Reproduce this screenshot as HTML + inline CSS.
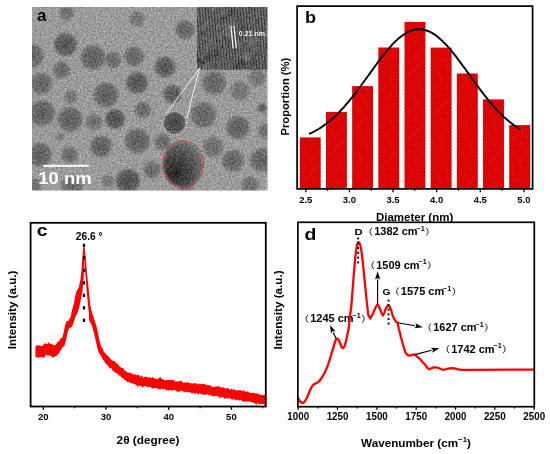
<!DOCTYPE html>
<html><head><meta charset="utf-8"><style>
html,body{margin:0;padding:0;background:#fff;}
body{width:550px;height:454px;overflow:hidden;position:relative;}
svg{position:absolute;left:0;top:0;will-change:transform;}
</style></head><body>
<svg width="550" height="454" viewBox="0 0 550 454">
<defs>
<clipPath id="temclip"><rect x="32" y="7" width="235.5" height="183.5"/></clipPath>
<clipPath id="insetclip"><rect x="197" y="7" width="70.5" height="62.5"/></clipPath>
<filter id="soft" x="-5%" y="-5%" width="110%" height="110%"><feGaussianBlur stdDeviation="0.85"/></filter>
<filter id="blur2" x="-10%" y="-10%" width="120%" height="120%"><feGaussianBlur stdDeviation="1.2"/></filter>
<filter id="grain" x="0" y="0" width="100%" height="100%" color-interpolation-filters="sRGB"><feTurbulence type="fractalNoise" baseFrequency="0.55" numOctaves="2" seed="3" result="n"/><feColorMatrix in="n" type="matrix" values="1 0 0 0 0  1 0 0 0 0  1 0 0 0 0  0 0 0 0 1" result="g"/><feComposite in="SourceGraphic" in2="g" operator="arithmetic" k1="0" k2="1" k3="0.42" k4="-0.21"/></filter>
<pattern id="fringe" patternUnits="userSpaceOnUse" width="2.9" height="10" patternTransform="rotate(-5)"><rect x="0" y="0" width="1.3" height="10" fill="#363636"/><rect x="1.3" y="0" width="1.7" height="10" fill="#727272"/></pattern>
<pattern id="hatch" patternUnits="userSpaceOnUse" width="2.45" height="10" patternTransform="rotate(45)"><rect x="0" y="0" width="2.45" height="10" fill="#ff0000"/><rect x="0" y="0" width="0.85" height="10" fill="#a00000"/></pattern>
</defs>
<g><g clip-path="url(#temclip)" filter="url(#grain)"><rect x="32" y="7" width="235.5" height="183.5" fill="#9b9b9b"/><g filter="url(#soft)"><radialGradient id="pg0"><stop offset="0" stop-color="#6c6c6c"/><stop offset="0.78" stop-color="#777777"/><stop offset="1" stop-color="#838383"/></radialGradient><circle cx="66.5" cy="13" r="7.5" fill="url(#pg0)"/><radialGradient id="pg1"><stop offset="0" stop-color="#717171"/><stop offset="0.78" stop-color="#7b7b7b"/><stop offset="1" stop-color="#878787"/></radialGradient><circle cx="137" cy="19" r="8" fill="url(#pg1)"/><radialGradient id="pg2"><stop offset="0" stop-color="#525252"/><stop offset="0.78" stop-color="#646464"/><stop offset="1" stop-color="#707070"/></radialGradient><circle cx="65.5" cy="44.5" r="11.5" fill="url(#pg2)"/><radialGradient id="pg3"><stop offset="0" stop-color="#616161"/><stop offset="0.78" stop-color="#707070"/><stop offset="1" stop-color="#7c7c7c"/></radialGradient><circle cx="32" cy="56" r="12" fill="url(#pg3)"/><radialGradient id="pg4"><stop offset="0" stop-color="#5c5c5c"/><stop offset="0.78" stop-color="#6c6c6c"/><stop offset="1" stop-color="#787878"/></radialGradient><circle cx="93" cy="57.5" r="12.5" fill="url(#pg4)"/><radialGradient id="pg5"><stop offset="0" stop-color="#676767"/><stop offset="0.78" stop-color="#747474"/><stop offset="1" stop-color="#808080"/></radialGradient><circle cx="113" cy="60" r="8.5" fill="url(#pg5)"/><radialGradient id="pg6"><stop offset="0" stop-color="#616161"/><stop offset="0.78" stop-color="#707070"/><stop offset="1" stop-color="#7c7c7c"/></radialGradient><circle cx="134" cy="56.5" r="10" fill="url(#pg6)"/><radialGradient id="pg7"><stop offset="0" stop-color="#676767"/><stop offset="0.78" stop-color="#747474"/><stop offset="1" stop-color="#808080"/></radialGradient><circle cx="61.5" cy="70" r="9" fill="url(#pg7)"/><radialGradient id="pg8"><stop offset="0" stop-color="#616161"/><stop offset="0.78" stop-color="#707070"/><stop offset="1" stop-color="#7c7c7c"/></radialGradient><circle cx="41.5" cy="83.5" r="11" fill="url(#pg8)"/><radialGradient id="pg9"><stop offset="0" stop-color="#525252"/><stop offset="0.78" stop-color="#646464"/><stop offset="1" stop-color="#707070"/></radialGradient><circle cx="137" cy="83" r="11" fill="url(#pg9)"/><radialGradient id="pg10"><stop offset="0" stop-color="#5c5c5c"/><stop offset="0.78" stop-color="#6c6c6c"/><stop offset="1" stop-color="#787878"/></radialGradient><circle cx="106" cy="95" r="12.5" fill="url(#pg10)"/><radialGradient id="pg11"><stop offset="0" stop-color="#717171"/><stop offset="0.78" stop-color="#7b7b7b"/><stop offset="1" stop-color="#878787"/></radialGradient><circle cx="71" cy="97" r="7" fill="url(#pg11)"/><radialGradient id="pg12"><stop offset="0" stop-color="#616161"/><stop offset="0.78" stop-color="#707070"/><stop offset="1" stop-color="#7c7c7c"/></radialGradient><circle cx="185" cy="29.5" r="9.8" fill="url(#pg12)"/><radialGradient id="pg13"><stop offset="0" stop-color="#525252"/><stop offset="0.78" stop-color="#646464"/><stop offset="1" stop-color="#707070"/></radialGradient><circle cx="165" cy="67" r="10.5" fill="url(#pg13)"/><radialGradient id="pg14"><stop offset="0" stop-color="#575757"/><stop offset="0.78" stop-color="#686868"/><stop offset="1" stop-color="#747474"/></radialGradient><circle cx="172.5" cy="94" r="9.5" fill="url(#pg14)"/><radialGradient id="pg15"><stop offset="0" stop-color="#616161"/><stop offset="0.78" stop-color="#707070"/><stop offset="1" stop-color="#7c7c7c"/></radialGradient><circle cx="214" cy="83" r="12" fill="url(#pg15)"/><radialGradient id="pg16"><stop offset="0" stop-color="#717171"/><stop offset="0.78" stop-color="#7b7b7b"/><stop offset="1" stop-color="#878787"/></radialGradient><circle cx="240" cy="91" r="10" fill="url(#pg16)"/><radialGradient id="pg17"><stop offset="0" stop-color="#717171"/><stop offset="0.78" stop-color="#7b7b7b"/><stop offset="1" stop-color="#878787"/></radialGradient><circle cx="257" cy="78" r="9" fill="url(#pg17)"/><radialGradient id="pg18"><stop offset="0" stop-color="#5c5c5c"/><stop offset="0.78" stop-color="#6c6c6c"/><stop offset="1" stop-color="#787878"/></radialGradient><circle cx="42" cy="113" r="13" fill="url(#pg18)"/><radialGradient id="pg19"><stop offset="0" stop-color="#5c5c5c"/><stop offset="0.78" stop-color="#6c6c6c"/><stop offset="1" stop-color="#787878"/></radialGradient><circle cx="70" cy="119.5" r="12.5" fill="url(#pg19)"/><radialGradient id="pg20"><stop offset="0" stop-color="#6c6c6c"/><stop offset="0.78" stop-color="#777777"/><stop offset="1" stop-color="#838383"/></radialGradient><circle cx="94" cy="122" r="8.5" fill="url(#pg20)"/><radialGradient id="pg21"><stop offset="0" stop-color="#4d4d4d"/><stop offset="0.78" stop-color="#606060"/><stop offset="1" stop-color="#6c6c6c"/></radialGradient><circle cx="115" cy="119" r="10" fill="url(#pg21)"/><radialGradient id="pg22"><stop offset="0" stop-color="#676767"/><stop offset="0.78" stop-color="#747474"/><stop offset="1" stop-color="#808080"/></radialGradient><circle cx="143" cy="110" r="8.5" fill="url(#pg22)"/><radialGradient id="pg23"><stop offset="0" stop-color="#5c5c5c"/><stop offset="0.78" stop-color="#6c6c6c"/><stop offset="1" stop-color="#787878"/></radialGradient><circle cx="101" cy="146.5" r="11" fill="url(#pg23)"/><radialGradient id="pg24"><stop offset="0" stop-color="#5c5c5c"/><stop offset="0.78" stop-color="#6c6c6c"/><stop offset="1" stop-color="#787878"/></radialGradient><circle cx="137.5" cy="141" r="12.5" fill="url(#pg24)"/><radialGradient id="pg25"><stop offset="0" stop-color="#5c5c5c"/><stop offset="0.78" stop-color="#6c6c6c"/><stop offset="1" stop-color="#787878"/></radialGradient><circle cx="40" cy="155" r="12" fill="url(#pg25)"/><radialGradient id="pg26"><stop offset="0" stop-color="#676767"/><stop offset="0.78" stop-color="#747474"/><stop offset="1" stop-color="#808080"/></radialGradient><circle cx="69.5" cy="155" r="8.5" fill="url(#pg26)"/><radialGradient id="pg27"><stop offset="0" stop-color="#4d4d4d"/><stop offset="0.78" stop-color="#606060"/><stop offset="1" stop-color="#6c6c6c"/></radialGradient><circle cx="128" cy="181" r="12" fill="url(#pg27)"/><radialGradient id="pg28"><stop offset="0" stop-color="#7b7b7b"/><stop offset="0.78" stop-color="#838383"/><stop offset="1" stop-color="#8f8f8f"/></radialGradient><circle cx="60" cy="137" r="5" fill="url(#pg28)"/><radialGradient id="pg29"><stop offset="0" stop-color="#676767"/><stop offset="0.78" stop-color="#747474"/><stop offset="1" stop-color="#808080"/></radialGradient><circle cx="72" cy="186" r="11" fill="url(#pg29)"/><radialGradient id="pg30"><stop offset="0" stop-color="#424242"/><stop offset="0.78" stop-color="#585858"/><stop offset="1" stop-color="#646464"/></radialGradient><circle cx="174.5" cy="123" r="11.5" fill="url(#pg30)"/><radialGradient id="pg31"><stop offset="0" stop-color="#616161"/><stop offset="0.78" stop-color="#707070"/><stop offset="1" stop-color="#7c7c7c"/></radialGradient><circle cx="203.5" cy="115" r="13" fill="url(#pg31)"/><radialGradient id="pg32"><stop offset="0" stop-color="#5c5c5c"/><stop offset="0.78" stop-color="#6c6c6c"/><stop offset="1" stop-color="#787878"/></radialGradient><circle cx="238" cy="127.5" r="11.5" fill="url(#pg32)"/><radialGradient id="pg33"><stop offset="0" stop-color="#676767"/><stop offset="0.78" stop-color="#747474"/><stop offset="1" stop-color="#808080"/></radialGradient><circle cx="162.5" cy="142" r="8.5" fill="url(#pg33)"/><radialGradient id="pg34"><stop offset="0" stop-color="#6c6c6c"/><stop offset="0.78" stop-color="#777777"/><stop offset="1" stop-color="#838383"/></radialGradient><circle cx="213" cy="147" r="10.5" fill="url(#pg34)"/><radialGradient id="pg35"><stop offset="0" stop-color="#616161"/><stop offset="0.78" stop-color="#707070"/><stop offset="1" stop-color="#7c7c7c"/></radialGradient><circle cx="233" cy="161" r="11" fill="url(#pg35)"/><radialGradient id="pg36"><stop offset="0" stop-color="#616161"/><stop offset="0.78" stop-color="#707070"/><stop offset="1" stop-color="#7c7c7c"/></radialGradient><circle cx="262" cy="160" r="12" fill="url(#pg36)"/><radialGradient id="pg37"><stop offset="0" stop-color="#676767"/><stop offset="0.78" stop-color="#747474"/><stop offset="1" stop-color="#808080"/></radialGradient><circle cx="152" cy="170" r="9" fill="url(#pg37)"/><radialGradient id="pg38"><stop offset="0" stop-color="#5c5c5c"/><stop offset="0.78" stop-color="#6c6c6c"/><stop offset="1" stop-color="#787878"/></radialGradient><circle cx="262" cy="108" r="5" fill="url(#pg38)"/><radialGradient id="pg39"><stop offset="0" stop-color="#676767"/><stop offset="0.78" stop-color="#747474"/><stop offset="1" stop-color="#808080"/></radialGradient><circle cx="266" cy="131" r="8" fill="url(#pg39)"/><radialGradient id="pg40"><stop offset="0" stop-color="#767676"/><stop offset="0.78" stop-color="#7f7f7f"/><stop offset="1" stop-color="#8b8b8b"/></radialGradient><circle cx="108" cy="181" r="7" fill="url(#pg40)"/><radialGradient id="pg41"><stop offset="0" stop-color="#717171"/><stop offset="0.78" stop-color="#7b7b7b"/><stop offset="1" stop-color="#878787"/></radialGradient><circle cx="186" cy="185" r="8" fill="url(#pg41)"/><radialGradient id="pg42"><stop offset="0" stop-color="#6c6c6c"/><stop offset="0.78" stop-color="#777777"/><stop offset="1" stop-color="#838383"/></radialGradient><circle cx="250" cy="185" r="9" fill="url(#pg42)"/><radialGradient id="pg43"><stop offset="0" stop-color="#6c6c6c"/><stop offset="0.78" stop-color="#777777"/><stop offset="1" stop-color="#838383"/></radialGradient><circle cx="34" cy="186" r="8" fill="url(#pg43)"/><radialGradient id="big" cx="0.3" cy="0.68" r="0.8"><stop offset="0" stop-color="#262626"/><stop offset="0.45" stop-color="#474747"/><stop offset="1" stop-color="#777"/></radialGradient><ellipse cx="183" cy="164.5" rx="19.5" ry="22.5" fill="url(#big)"/></g><rect x="197" y="7" width="70.5" height="62.5" fill="#5a5a5a"/><rect x="197" y="7" width="70.5" height="62.5" fill="url(#fringe)"/><g filter="url(#blur2)" clip-path="url(#insetclip)"><circle cx="206.1" cy="38.2" r="3.0" fill="#787878" opacity="0.45"/><circle cx="207.4" cy="65.0" r="1.7" fill="#2d2d2d" opacity="0.45"/><circle cx="206.1" cy="66.3" r="3.1" fill="#878787" opacity="0.45"/><circle cx="233.1" cy="48.4" r="2.2" fill="#3c3c3c" opacity="0.45"/><circle cx="206.7" cy="56.3" r="3.2" fill="#3c3c3c" opacity="0.45"/><circle cx="254.6" cy="41.3" r="4.0" fill="#787878" opacity="0.45"/><circle cx="211.4" cy="41.6" r="2.7" fill="#878787" opacity="0.45"/><circle cx="238.7" cy="21.7" r="3.5" fill="#3c3c3c" opacity="0.45"/><circle cx="258.1" cy="15.0" r="2.7" fill="#787878" opacity="0.45"/><circle cx="202.9" cy="63.0" r="2.6" fill="#3c3c3c" opacity="0.45"/><circle cx="207.4" cy="49.1" r="2.0" fill="#787878" opacity="0.45"/><circle cx="212.3" cy="9.1" r="2.0" fill="#878787" opacity="0.45"/><circle cx="221.4" cy="36.3" r="3.8" fill="#787878" opacity="0.45"/><circle cx="220.9" cy="8.1" r="1.9" fill="#787878" opacity="0.45"/><circle cx="267.2" cy="35.7" r="3.2" fill="#878787" opacity="0.45"/><circle cx="199.4" cy="59.9" r="3.0" fill="#2d2d2d" opacity="0.45"/><circle cx="218.8" cy="26.8" r="1.7" fill="#878787" opacity="0.45"/><circle cx="198.7" cy="59.4" r="2.7" fill="#2d2d2d" opacity="0.45"/><circle cx="206.0" cy="53.2" r="2.0" fill="#878787" opacity="0.45"/><circle cx="239.2" cy="63.0" r="1.6" fill="#2d2d2d" opacity="0.45"/><circle cx="253.8" cy="18.9" r="1.7" fill="#787878" opacity="0.45"/><circle cx="217.7" cy="52.4" r="2.7" fill="#2d2d2d" opacity="0.45"/><circle cx="257.1" cy="20.6" r="2.3" fill="#3c3c3c" opacity="0.45"/><circle cx="266.0" cy="65.8" r="2.4" fill="#3c3c3c" opacity="0.45"/><circle cx="227.7" cy="26.6" r="3.4" fill="#878787" opacity="0.45"/><circle cx="201.8" cy="32.3" r="2.1" fill="#2d2d2d" opacity="0.45"/><circle cx="256.6" cy="53.4" r="2.9" fill="#2d2d2d" opacity="0.45"/><circle cx="245.8" cy="55.8" r="3.8" fill="#787878" opacity="0.45"/><circle cx="207.6" cy="46.1" r="1.9" fill="#787878" opacity="0.45"/><circle cx="252.4" cy="62.9" r="3.4" fill="#3c3c3c" opacity="0.45"/><circle cx="199.5" cy="29.5" r="1.9" fill="#787878" opacity="0.45"/><circle cx="207.2" cy="22.3" r="2.4" fill="#878787" opacity="0.45"/><circle cx="201.3" cy="61.4" r="3.1" fill="#2d2d2d" opacity="0.45"/><circle cx="232.1" cy="11.9" r="3.0" fill="#2d2d2d" opacity="0.45"/><circle cx="213.3" cy="9.4" r="1.8" fill="#878787" opacity="0.45"/><circle cx="241.9" cy="27.3" r="3.1" fill="#787878" opacity="0.45"/><circle cx="221.8" cy="15.2" r="2.3" fill="#878787" opacity="0.45"/><circle cx="261.3" cy="14.2" r="1.7" fill="#3c3c3c" opacity="0.45"/><circle cx="236.6" cy="67.2" r="3.8" fill="#3c3c3c" opacity="0.45"/><circle cx="201.7" cy="57.4" r="3.2" fill="#787878" opacity="0.45"/><circle cx="207.1" cy="36.1" r="1.6" fill="#3c3c3c" opacity="0.45"/><circle cx="247.7" cy="57.3" r="3.4" fill="#878787" opacity="0.45"/><circle cx="215.8" cy="56.4" r="2.1" fill="#2d2d2d" opacity="0.45"/><circle cx="224.5" cy="38.1" r="2.2" fill="#2d2d2d" opacity="0.45"/><circle cx="239.7" cy="44.7" r="2.1" fill="#878787" opacity="0.45"/><circle cx="222.2" cy="52.9" r="2.2" fill="#787878" opacity="0.45"/><circle cx="253.3" cy="32.9" r="2.9" fill="#787878" opacity="0.45"/><circle cx="233.5" cy="23.1" r="3.9" fill="#787878" opacity="0.45"/><circle cx="203.8" cy="27.3" r="2.9" fill="#787878" opacity="0.45"/><circle cx="207.9" cy="57.0" r="3.5" fill="#2d2d2d" opacity="0.45"/><circle cx="241.9" cy="63.4" r="3.4" fill="#2d2d2d" opacity="0.45"/><circle cx="242.5" cy="28.3" r="3.4" fill="#3c3c3c" opacity="0.45"/><circle cx="224.1" cy="16.6" r="3.7" fill="#2d2d2d" opacity="0.45"/><circle cx="249.5" cy="42.0" r="3.5" fill="#787878" opacity="0.45"/><circle cx="228.6" cy="42.4" r="1.7" fill="#3c3c3c" opacity="0.45"/><circle cx="254.4" cy="51.1" r="3.5" fill="#787878" opacity="0.45"/><circle cx="232.0" cy="62.1" r="1.8" fill="#787878" opacity="0.45"/><circle cx="223.2" cy="12.7" r="3.0" fill="#878787" opacity="0.45"/><circle cx="229.1" cy="33.8" r="3.6" fill="#878787" opacity="0.45"/><circle cx="240.5" cy="32.9" r="2.8" fill="#2d2d2d" opacity="0.45"/></g></g><line x1="230.9" y1="25.7" x2="233.1" y2="48.6" stroke="#f6f6f6" stroke-width="1.2"/><line x1="233.9" y1="25.7" x2="236.3" y2="48.2" stroke="#f6f6f6" stroke-width="1.2"/><text x="238.8" y="36.4" fill="#f4f4f4" style="font-family:'Liberation Sans', sans-serif;font-size:7.0px;font-weight:bold">0.21 nm</text><line x1="199.5" y1="68" x2="166.5" y2="113.5" stroke="#f0f0f0" stroke-width="1"/><line x1="199.5" y1="68" x2="186.8" y2="118.5" stroke="#f0f0f0" stroke-width="1"/><circle cx="174.5" cy="123" r="11.8" fill="none" stroke="#e8f0f0" stroke-width="1.1" stroke-dasharray="1.1 1.1"/><ellipse cx="183.2" cy="164.3" rx="20.3" ry="23.3" fill="none" stroke="#e01010" stroke-width="1.3" stroke-dasharray="1.3 1.3"/><rect x="43" y="164.8" width="45.7" height="2" fill="#fafafa"/><text transform="translate(38.3 184.2) scale(1.1 1)" fill="#fff" style="font-family:'Liberation Sans', sans-serif;font-size:16.8px;font-weight:bold">10 nm</text><text x="37" y="20.5" fill="#000" style="font-family:'Liberation Sans', sans-serif;font-size:17px;font-weight:bold">a</text></g>
<g><rect x="299.80" y="137.4" width="20.9" height="51.50" fill="url(#hatch)"/><rect x="325.98" y="111.9" width="20.9" height="77.00" fill="url(#hatch)"/><rect x="352.16" y="86.1" width="20.9" height="102.80" fill="url(#hatch)"/><rect x="378.34" y="47.5" width="20.9" height="141.40" fill="url(#hatch)"/><rect x="404.52" y="21.9" width="20.9" height="167.00" fill="url(#hatch)"/><rect x="430.70" y="47.6" width="20.9" height="141.30" fill="url(#hatch)"/><rect x="456.88" y="73.5" width="20.9" height="115.40" fill="url(#hatch)"/><rect x="483.06" y="99.4" width="20.9" height="89.50" fill="url(#hatch)"/><rect x="509.24" y="125.1" width="20.9" height="63.80" fill="url(#hatch)"/><polyline points="309.8,133.7 311.6,132.9 313.3,132.0 315.1,131.0 316.8,130.0 318.6,129.0 320.4,127.9 322.1,126.7 323.9,125.4 325.7,124.2 327.4,122.8 329.2,121.4 330.9,119.9 332.7,118.4 334.5,116.7 336.2,115.1 338.0,113.3 339.8,111.5 341.5,109.7 343.3,107.8 345.0,105.8 346.8,103.7 348.6,101.7 350.3,99.5 352.1,97.3 353.9,95.1 355.6,92.8 357.4,90.5 359.1,88.1 360.9,85.8 362.7,83.3 364.4,80.9 366.2,78.5 368.0,76.0 369.7,73.6 371.5,71.1 373.2,68.7 375.0,66.2 376.8,63.8 378.5,61.4 380.3,59.1 382.0,56.8 383.8,54.5 385.6,52.3 387.3,50.2 389.1,48.1 390.9,46.1 392.6,44.2 394.4,42.4 396.1,40.7 397.9,39.1 399.7,37.6 401.4,36.2 403.2,34.9 405.0,33.7 406.7,32.7 408.5,31.8 410.2,31.0 412.0,30.4 413.8,29.9 415.5,29.5 417.3,29.3 419.1,29.2 420.8,29.3 422.6,29.5 424.3,29.8 426.1,30.3 427.9,31.0 429.6,31.7 431.4,32.6 433.2,33.6 434.9,34.8 436.7,36.1 438.4,37.5 440.2,39.0 442.0,40.6 443.7,42.3 445.5,44.1 447.3,46.0 449.0,48.0 450.8,50.1 452.5,52.2 454.3,54.4 456.1,56.7 457.8,59.0 459.6,61.3 461.3,63.7 463.1,66.1 464.9,68.5 466.6,71.0 468.4,73.4 470.2,75.9 471.9,78.3 473.7,80.8 475.4,83.2 477.2,85.6 479.0,88.0 480.7,90.4 482.5,92.7 484.3,95.0 486.0,97.2 487.8,99.4 489.5,101.6 491.3,103.6 493.1,105.7 494.8,107.7 496.6,109.6 498.4,111.4 500.1,113.2 501.9,115.0 503.6,116.7 505.4,118.3 507.2,119.8 508.9,121.3 510.7,122.7 512.5,124.1 514.2,125.4 516.0,126.6 517.7,127.8 519.5,128.9" fill="none" stroke="#000" stroke-width="1.9" stroke-linejoin="round" stroke-linecap="round"/><rect x="297.1" y="6.1" width="235.5" height="182.8" fill="none" stroke="#000" stroke-width="1.7"/><line x1="305.8" y1="188.9" x2="305.8" y2="192.3" stroke="#000" stroke-width="1.3"/><line x1="327.6" y1="188.9" x2="327.6" y2="190.70000000000002" stroke="#000" stroke-width="1.2"/><text x="305.8" y="203" text-anchor="middle" style="font-family:'Liberation Sans', sans-serif;font-size:9.5px;font-weight:bold">2.5</text><line x1="349.4" y1="188.9" x2="349.4" y2="192.3" stroke="#000" stroke-width="1.3"/><line x1="371.2" y1="188.9" x2="371.2" y2="190.70000000000002" stroke="#000" stroke-width="1.2"/><text x="349.4" y="203" text-anchor="middle" style="font-family:'Liberation Sans', sans-serif;font-size:9.5px;font-weight:bold">3.0</text><line x1="393.0" y1="188.9" x2="393.0" y2="192.3" stroke="#000" stroke-width="1.3"/><line x1="414.9" y1="188.9" x2="414.9" y2="190.70000000000002" stroke="#000" stroke-width="1.2"/><text x="393.0" y="203" text-anchor="middle" style="font-family:'Liberation Sans', sans-serif;font-size:9.5px;font-weight:bold">3.5</text><line x1="436.7" y1="188.9" x2="436.7" y2="192.3" stroke="#000" stroke-width="1.3"/><line x1="458.5" y1="188.9" x2="458.5" y2="190.70000000000002" stroke="#000" stroke-width="1.2"/><text x="436.7" y="203" text-anchor="middle" style="font-family:'Liberation Sans', sans-serif;font-size:9.5px;font-weight:bold">4.0</text><line x1="480.3" y1="188.9" x2="480.3" y2="192.3" stroke="#000" stroke-width="1.3"/><line x1="502.1" y1="188.9" x2="502.1" y2="190.70000000000002" stroke="#000" stroke-width="1.2"/><text x="480.3" y="203" text-anchor="middle" style="font-family:'Liberation Sans', sans-serif;font-size:9.5px;font-weight:bold">4.5</text><line x1="523.9" y1="188.9" x2="523.9" y2="192.3" stroke="#000" stroke-width="1.3"/><text x="523.9" y="203" text-anchor="middle" style="font-family:'Liberation Sans', sans-serif;font-size:9.5px;font-weight:bold">5.0</text><text x="414.6" y="221" text-anchor="middle" style="font-family:'Liberation Sans', sans-serif;font-size:11.5px;font-weight:bold">Diameter (nm)</text><text transform="translate(289.4 96.6) rotate(-90)" text-anchor="middle" style="font-family:'Liberation Sans', sans-serif;font-size:11.2px;font-weight:bold">Proportion (%)</text><text transform="translate(305.0 22.8) scale(1.1 1)" style="font-family:'Liberation Sans', sans-serif;font-size:16.5px;font-weight:bold">b</text></g>
<g><polygon points="35.5,346.1 36.0,345.9 36.5,345.6 37.0,345.5 37.5,345.2 38.0,345.6 38.5,345.3 39.0,345.4 39.5,345.3 40.0,345.7 40.5,345.9 41.0,346.1 41.5,346.0 42.0,345.9 42.5,345.7 43.0,345.3 43.5,344.8 44.0,344.2 44.5,343.8 45.0,343.1 45.5,343.6 46.0,343.6 46.5,343.9 47.0,343.9 47.5,344.1 48.0,342.9 48.5,342.2 49.0,342.6 49.5,343.9 50.0,343.7 50.5,343.6 51.0,343.7 51.5,344.2 52.0,344.1 52.5,344.3 53.0,344.9 53.5,345.2 54.0,345.1 54.5,345.0 55.0,345.2 55.5,345.1 56.0,344.2 56.5,343.7 57.0,342.9 57.5,342.2 58.0,341.3 58.5,341.5 59.0,341.6 59.5,340.4 60.0,339.3 60.5,338.6 61.0,338.6 61.5,338.1 62.0,338.1 62.5,336.9 63.0,335.2 63.5,333.1 64.0,330.7 64.5,328.1 65.0,326.2 65.5,324.2 66.0,322.4 66.5,321.6 67.0,321.0 67.5,320.9 68.0,321.0 68.5,320.7 69.0,319.5 69.5,318.9 70.0,318.6 70.5,317.3 71.0,315.6 71.5,313.6 72.0,311.6 72.5,309.9 73.0,308.1 73.5,306.2 74.0,304.3 74.5,302.5 75.0,300.7 75.5,298.8 76.0,297.0 76.5,295.2 76.5,313.2 76.0,315.0 75.5,316.8 75.0,318.5 74.5,320.0 74.0,321.6 73.5,322.9 73.0,324.1 72.5,325.3 72.0,326.4 71.5,327.1 71.0,327.4 70.5,327.7 70.0,327.8 69.5,328.3 69.0,328.7 68.5,329.7 68.0,331.1 67.5,333.1 67.0,335.5 66.5,338.0 66.0,340.4 65.5,342.2 65.0,344.2 64.5,345.8 64.0,346.4 63.5,346.8 63.0,347.1 62.5,347.3 62.0,347.7 61.5,349.3 61.0,349.9 60.5,350.2 60.0,351.0 59.5,352.5 59.0,353.6 58.5,354.0 58.0,353.9 57.5,354.6 57.0,355.4 56.5,356.0 56.0,355.9 55.5,356.1 55.0,356.4 54.5,357.0 54.0,356.9 53.5,357.6 53.0,358.0 52.5,357.6 52.0,356.6 51.5,356.4 51.0,356.3 50.5,355.7 50.0,355.5 49.5,355.4 49.0,355.6 48.5,355.5 48.0,356.0 47.5,355.6 47.0,355.2 46.5,354.6 46.0,355.0 45.5,355.3 45.0,356.3 44.5,357.4 44.0,358.0 43.5,357.7 43.0,357.2 42.5,357.1 42.0,357.1 41.5,357.2 41.0,357.3 40.5,357.2 40.0,357.2 39.5,357.3 39.0,357.5 38.5,357.7 38.0,357.9 37.5,357.3 37.0,357.3 36.5,357.5 36.0,357.6 35.5,356.7" fill="#ff0000"/><polygon points="89.0,299.5 89.5,302.4 90.0,305.4 90.5,307.4 91.0,309.4 91.5,311.1 92.0,312.7 92.5,314.2 93.0,315.6 93.5,316.9 94.0,318.4 94.5,319.9 95.0,321.4 95.5,322.9 96.0,324.5 96.5,326.3 97.0,328.5 97.5,330.6 98.0,333.0 98.5,335.4 99.0,338.0 99.5,340.4 100.0,342.4 100.5,344.3 101.0,346.0 101.5,347.1 102.0,347.7 102.5,348.0 103.0,349.5 103.5,351.0 104.0,352.3 104.5,352.5 105.0,352.7 105.5,353.2 106.0,354.3 106.5,355.0 107.0,355.4 107.5,355.4 108.0,355.6 108.5,356.3 109.0,357.1 109.5,358.0 110.0,358.4 110.5,359.0 111.0,359.3 111.5,360.0 112.0,360.4 112.5,360.9 113.0,360.7 113.5,360.8 114.0,360.7 114.5,361.3 115.0,361.7 115.5,362.7 116.0,362.9 116.5,362.9 117.0,363.4 117.5,364.3 118.0,364.5 118.5,364.5 119.0,365.4 119.5,366.6 120.0,367.0 120.5,367.1 121.0,367.3 121.5,368.0 122.0,368.1 122.5,368.0 123.0,367.9 123.5,368.5 124.0,369.4 124.5,370.4 125.0,370.8 125.5,371.1 126.0,371.2 126.5,371.6 127.0,372.1 127.5,372.6 128.0,372.5 128.5,372.3 129.0,372.4 129.5,373.0 130.0,372.9 130.5,372.7 131.0,372.8 131.5,373.6 132.0,374.1 132.5,374.3 133.0,374.2 133.5,374.2 134.0,374.5 134.5,374.5 135.0,374.3 135.5,374.3 136.0,375.0 136.5,375.4 137.0,375.0 137.5,374.6 138.0,374.6 138.5,374.9 139.0,375.3 139.5,375.6 140.0,376.5 140.5,376.7 141.0,376.4 141.5,375.3 142.0,375.6 142.5,376.6 143.0,377.5 143.5,377.7 144.0,377.4 144.5,376.7 145.0,376.6 145.5,376.8 146.0,376.7 146.5,376.5 147.0,377.1 147.5,377.8 148.0,377.6 148.5,377.3 149.0,377.2 149.5,377.3 150.0,377.5 150.5,377.8 151.0,378.0 151.5,378.1 152.0,377.6 152.5,377.0 153.0,376.9 153.5,377.9 154.0,378.7 154.5,378.5 155.0,378.2 155.5,378.1 156.0,378.8 156.5,379.1 157.0,379.4 157.5,378.9 158.0,378.9 158.5,378.3 159.0,378.2 159.5,377.6 160.0,377.0 160.5,377.0 161.0,377.7 161.5,379.1 162.0,379.1 162.5,379.2 163.0,378.8 163.5,379.3 164.0,379.9 164.5,380.4 165.0,380.6 165.5,380.3 166.0,380.0 166.5,380.0 167.0,380.0 167.5,380.0 168.0,379.9 168.5,379.9 169.0,379.6 169.5,379.9 170.0,380.6 170.5,380.7 171.0,379.8 171.5,379.2 172.0,379.7 172.5,380.3 173.0,380.8 173.5,380.0 174.0,379.9 174.5,380.5 175.0,381.7 175.5,381.4 176.0,381.2 176.5,381.4 177.0,381.4 177.5,381.3 178.0,381.6 178.5,381.5 179.0,381.3 179.5,381.3 180.0,381.3 180.5,380.6 181.0,380.5 181.5,381.1 182.0,381.5 182.5,382.0 183.0,382.5 183.5,382.7 184.0,382.7 184.5,382.9 185.0,382.4 185.5,382.1 186.0,382.3 186.5,382.8 187.0,382.8 187.5,382.1 188.0,382.1 188.5,382.6 189.0,383.3 189.5,383.0 190.0,383.0 190.5,383.0 191.0,383.2 191.5,383.3 192.0,383.7 192.5,383.9 193.0,383.3 193.5,383.2 194.0,383.1 194.5,383.4 195.0,383.2 195.5,383.4 196.0,383.2 196.5,383.3 197.0,383.6 197.5,384.2 198.0,384.4 198.5,384.4 199.0,384.1 199.5,383.4 200.0,383.5 200.5,384.0 201.0,384.5 201.5,384.4 202.0,384.1 202.5,384.1 203.0,383.7 203.5,383.9 204.0,384.1 204.5,384.0 205.0,384.3 205.5,384.9 206.0,384.7 206.5,384.6 207.0,384.9 207.5,385.2 208.0,385.3 208.5,385.2 209.0,385.2 209.5,385.0 210.0,385.3 210.5,385.6 211.0,386.0 211.5,386.5 212.0,386.7 212.5,386.8 213.0,386.8 213.5,387.0 214.0,387.1 214.5,387.3 215.0,387.2 215.5,386.4 216.0,386.1 216.5,386.6 217.0,386.8 217.5,386.7 218.0,386.2 218.5,386.1 219.0,386.1 219.5,386.8 220.0,387.5 220.5,387.3 221.0,387.3 221.5,387.3 222.0,387.8 222.5,387.1 223.0,387.1 223.5,387.5 224.0,387.9 224.5,388.0 225.0,388.6 225.5,388.6 226.0,388.5 226.5,388.3 227.0,388.3 227.5,388.0 228.0,388.1 228.5,388.4 229.0,388.9 229.5,389.4 230.0,389.5 230.5,389.7 231.0,389.2 231.5,388.7 232.0,388.6 232.5,389.3 233.0,390.0 233.5,390.0 234.0,389.2 234.5,389.0 235.0,389.6 235.5,390.4 236.0,390.6 236.5,390.3 237.0,390.4 237.5,390.2 238.0,390.2 238.5,390.0 239.0,390.5 239.5,390.2 240.0,389.8 240.5,389.9 241.0,390.4 241.5,390.8 242.0,391.2 242.5,391.4 243.0,390.3 243.5,390.3 244.0,390.5 244.5,391.2 245.0,391.5 245.5,391.6 246.0,391.6 246.5,391.5 247.0,391.7 247.5,391.4 248.0,391.8 248.5,392.1 249.0,392.3 249.5,392.5 250.0,393.0 250.5,393.1 251.0,393.0 251.5,392.9 252.0,392.8 252.5,392.6 253.0,392.8 253.5,393.1 254.0,393.0 254.5,393.0 255.0,393.4 255.5,393.6 256.0,393.3 256.5,393.4 257.0,393.4 257.5,393.3 258.0,393.6 258.5,394.3 259.0,394.4 259.5,394.3 260.0,394.5 260.5,394.7 261.0,395.0 261.5,394.7 262.0,394.9 262.5,395.1 263.0,395.3 263.5,394.9 264.0,395.0 264.5,394.9 265.0,395.1 265.0,405.2 264.5,405.2 264.0,404.1 263.5,404.0 263.0,404.0 262.5,404.1 262.0,403.8 261.5,404.1 261.0,404.0 260.5,404.1 260.0,404.1 259.5,404.7 259.0,404.2 258.5,403.4 258.0,402.9 257.5,403.0 257.0,403.7 256.5,404.6 256.0,405.0 255.5,404.3 255.0,403.2 254.5,403.0 254.0,402.8 253.5,402.7 253.0,402.5 252.5,402.6 252.0,402.4 251.5,402.3 251.0,402.0 250.5,401.8 250.0,401.4 249.5,401.4 249.0,401.5 248.5,401.6 248.0,401.6 247.5,401.3 247.0,401.3 246.5,401.9 246.0,402.0 245.5,401.3 245.0,400.8 244.5,401.7 244.0,402.1 243.5,401.9 243.0,401.3 242.5,400.9 242.0,400.9 241.5,400.6 241.0,400.2 240.5,399.6 240.0,400.3 239.5,400.7 239.0,400.8 238.5,400.2 238.0,399.8 237.5,399.4 237.0,399.5 236.5,400.6 236.0,400.6 235.5,400.1 235.0,399.4 234.5,399.5 234.0,399.6 233.5,399.2 233.0,399.5 232.5,399.4 232.0,399.6 231.5,399.2 231.0,399.0 230.5,398.8 230.0,398.5 229.5,398.2 229.0,398.2 228.5,398.3 228.0,398.7 227.5,398.6 227.0,398.1 226.5,397.4 226.0,397.9 225.5,398.9 225.0,398.9 224.5,398.4 224.0,397.9 223.5,397.6 223.0,397.1 222.5,397.2 222.0,397.6 221.5,397.6 221.0,397.2 220.5,397.2 220.0,397.9 219.5,398.3 219.0,397.6 218.5,396.5 218.0,396.3 217.5,396.5 217.0,396.1 216.5,396.1 216.0,395.8 215.5,395.7 215.0,396.1 214.5,396.7 214.0,396.5 213.5,396.2 213.0,396.4 212.5,396.4 212.0,395.5 211.5,394.9 211.0,395.3 210.5,395.5 210.0,395.4 209.5,394.8 209.0,395.1 208.5,395.0 208.0,394.8 207.5,394.3 207.0,394.3 206.5,394.0 206.0,394.2 205.5,394.9 205.0,395.3 204.5,394.9 204.0,394.4 203.5,394.6 203.0,394.6 202.5,394.6 202.0,394.3 201.5,394.4 201.0,394.0 200.5,393.8 200.0,393.3 199.5,393.8 199.0,393.9 198.5,394.3 198.0,394.3 197.5,394.1 197.0,393.3 196.5,393.0 196.0,393.0 195.5,393.4 195.0,394.0 194.5,393.8 194.0,393.2 193.5,392.8 193.0,392.7 192.5,393.3 192.0,393.8 191.5,393.6 191.0,392.6 190.5,392.1 190.0,392.6 189.5,392.7 189.0,392.2 188.5,391.9 188.0,391.9 187.5,392.2 187.0,392.1 186.5,392.2 186.0,391.7 185.5,391.3 185.0,392.0 184.5,392.3 184.0,392.4 183.5,391.5 183.0,391.3 182.5,390.8 182.0,390.8 181.5,390.6 181.0,390.5 180.5,390.9 180.0,391.4 179.5,391.5 179.0,391.3 178.5,392.0 178.0,392.5 177.5,391.8 177.0,391.4 176.5,391.0 176.0,391.0 175.5,390.2 175.0,389.9 174.5,389.7 174.0,389.7 173.5,390.2 173.0,390.4 172.5,391.0 172.0,390.5 171.5,390.2 171.0,389.9 170.5,390.3 170.0,390.8 169.5,390.3 169.0,390.5 168.5,390.4 168.0,390.3 167.5,389.7 167.0,390.4 166.5,390.5 166.0,389.9 165.5,389.0 165.0,389.0 164.5,388.9 164.0,389.4 163.5,389.4 163.0,389.3 162.5,388.7 162.0,388.5 161.5,388.4 161.0,389.1 160.5,389.5 160.0,389.2 159.5,388.9 159.0,389.6 158.5,389.5 158.0,388.8 157.5,388.1 157.0,388.3 156.5,388.2 156.0,387.9 155.5,388.2 155.0,388.6 154.5,388.2 154.0,387.6 153.5,388.5 153.0,388.8 152.5,388.4 152.0,388.0 151.5,388.2 151.0,387.6 150.5,386.9 150.0,386.9 149.5,386.8 149.0,386.9 148.5,387.2 148.0,387.2 147.5,387.0 147.0,386.7 146.5,386.6 146.0,386.4 145.5,386.3 145.0,386.1 144.5,386.1 144.0,386.3 143.5,386.8 143.0,387.3 142.5,387.4 142.0,386.7 141.5,385.9 141.0,385.9 140.5,385.8 140.0,386.2 139.5,386.0 139.0,385.6 138.5,385.7 138.0,386.7 137.5,387.1 137.0,386.1 136.5,385.1 136.0,384.9 135.5,384.7 135.0,384.3 134.5,384.1 134.0,384.0 133.5,383.9 133.0,383.7 132.5,383.5 132.0,383.3 131.5,383.2 131.0,383.4 130.5,383.0 130.0,382.7 129.5,382.3 129.0,382.1 128.5,381.7 128.0,381.7 127.5,382.0 127.0,381.9 126.5,381.1 126.0,380.5 125.5,380.6 125.0,380.6 124.5,380.1 124.0,379.1 123.5,378.2 123.0,377.9 122.5,378.2 122.0,377.9 121.5,377.5 121.0,376.7 120.5,376.1 120.0,375.2 119.5,375.6 119.0,375.9 118.5,375.2 118.0,374.1 117.5,373.7 117.0,373.5 116.5,372.9 116.0,372.6 115.5,373.0 115.0,372.8 114.5,372.0 114.0,370.8 113.5,371.3 113.0,371.4 112.5,370.6 112.0,369.1 111.5,368.6 111.0,368.5 110.5,368.1 110.0,368.4 109.5,368.2 109.0,367.6 108.5,366.2 108.0,366.1 107.5,365.6 107.0,364.8 106.5,363.7 106.0,363.8 105.5,363.8 105.0,363.0 104.5,361.6 104.0,360.7 103.5,360.3 103.0,359.7 102.5,358.9 102.0,357.6 101.5,356.7 101.0,356.0 100.5,355.4 100.0,354.7 99.5,353.8 99.0,353.0 98.5,351.9 98.0,350.4 97.5,348.6 97.0,346.5 96.5,344.3 96.0,342.0 95.5,339.7 95.0,337.4 94.5,335.3 94.0,333.3 93.5,331.4 93.0,329.6 92.5,327.8 92.0,326.2 91.5,324.8 91.0,323.3 90.5,323.2 90.0,322.1 89.5,321.6 89.0,319.1" fill="#ff0000"/><polygon points="83.4,245.6 82.8,253 82.0,262 81.5,270 80.6,278.8 78.8,287.6 76.2,292 75.3,296.5 73.5,305.3 72.2,310 71.4,314 76.8,315 78.4,310 79.7,305.3 81.5,296.5 82.4,292 82.8,287.6 83.6,278.8 84.0,270 84.3,260 84.5,250" fill="#ff0000"/><polygon points="83.9,247 84.5,262 84.9,270 85.9,278.8 86.3,287.6 86.8,292 87.2,296.5 88.1,305.3 88.5,310 89.2,314 92.2,314 91.2,310 90.3,305.3 89.4,296.5 89.0,292 88.5,287.6 87.6,278.8 86.8,270 85.7,257 84.7,247.5 84.0,244.9" fill="#ff0000"/><polygon points="83.3,246.5 84.0,244.9 84.7,246.5" fill="#ff0000"/><rect x="82.8" y="243.7" width="2.3" height="3.3" fill="#000"/><rect x="82.8" y="256.2" width="2.3" height="3.3" fill="#000"/><rect x="82.8" y="268.7" width="2.3" height="3.3" fill="#000"/><rect x="82.8" y="281.2" width="2.3" height="3.3" fill="#000"/><rect x="82.8" y="293.7" width="2.3" height="3.3" fill="#000"/><rect x="82.8" y="306.2" width="2.3" height="3.3" fill="#000"/><rect x="82.8" y="318.7" width="2.3" height="3.3" fill="#000"/><rect x="30.6" y="222.8" width="235.20000000000002" height="183.7" fill="none" stroke="#000" stroke-width="1.8"/><line x1="43.3" y1="406.5" x2="43.3" y2="409.7" stroke="#000" stroke-width="1.3"/><text x="43.3" y="420.2" text-anchor="middle" style="font-family:'Liberation Sans', sans-serif;font-size:9.5px;font-weight:bold">20</text><line x1="74.6" y1="406.5" x2="74.6" y2="408.3" stroke="#000" stroke-width="1.2"/><line x1="106.0" y1="406.5" x2="106.0" y2="409.7" stroke="#000" stroke-width="1.3"/><text x="106.0" y="420.2" text-anchor="middle" style="font-family:'Liberation Sans', sans-serif;font-size:9.5px;font-weight:bold">30</text><line x1="137.3" y1="406.5" x2="137.3" y2="408.3" stroke="#000" stroke-width="1.2"/><line x1="168.7" y1="406.5" x2="168.7" y2="409.7" stroke="#000" stroke-width="1.3"/><text x="168.7" y="420.2" text-anchor="middle" style="font-family:'Liberation Sans', sans-serif;font-size:9.5px;font-weight:bold">40</text><line x1="200.1" y1="406.5" x2="200.1" y2="408.3" stroke="#000" stroke-width="1.2"/><line x1="231.4" y1="406.5" x2="231.4" y2="409.7" stroke="#000" stroke-width="1.3"/><text x="231.4" y="420.2" text-anchor="middle" style="font-family:'Liberation Sans', sans-serif;font-size:9.5px;font-weight:bold">50</text><line x1="262.8" y1="406.5" x2="262.8" y2="408.3" stroke="#000" stroke-width="1.2"/><text x="148" y="444.4" text-anchor="middle" style="font-family:'Liberation Sans', sans-serif;font-size:11.8px;font-weight:bold">2θ (degree)</text><text transform="translate(16.4 310) rotate(-90)" text-anchor="middle" style="font-family:'Liberation Sans', sans-serif;font-size:11.6px;font-weight:bold">Intensity (a.u.)</text><text transform="translate(36.7 236.2) scale(1.18 1)" style="font-family:'Liberation Sans', sans-serif;font-size:16.4px;font-weight:bold">c</text><text x="75.8" y="239.5" style="font-family:'Liberation Sans', sans-serif;font-size:10.2px;font-weight:bold">26.6 °</text></g>
<g><text transform="translate(354.5 235.2) scale(1.2 1)" style="font-family:'Liberation Sans', sans-serif;font-size:9.4px;font-weight:bold">D</text><text transform="translate(382.6 294.6) scale(1.08 1)" style="font-family:'Liberation Sans', sans-serif;font-size:9.6px;font-weight:bold">G</text><path d="M371.9,227.8 Q368.1,231.70000000000002 371.9,235.60000000000002" fill="none" stroke="#111" stroke-width="0.95"/><text transform="translate(374.2 235.3) scale(1.1 1)" style="font-family:'Liberation Sans', sans-serif;font-size:10px;font-weight:bold">1382 cm</text><text transform="translate(416.4 230.8) scale(1.1 1)" style="font-family:'Liberation Sans', sans-serif;font-size:6.6px;font-weight:bold">−1</text><path d="M426.2,227.8 Q430,231.70000000000002 426.2,235.60000000000002" fill="none" stroke="#111" stroke-width="0.95"/><path d="M373.9,261.4 Q370.1,265.29999999999995 373.9,269.2" fill="none" stroke="#111" stroke-width="0.95"/><text transform="translate(376.2 268.9) scale(1.1 1)" style="font-family:'Liberation Sans', sans-serif;font-size:10px;font-weight:bold">1509 cm</text><text transform="translate(418.4 264.4) scale(1.1 1)" style="font-family:'Liberation Sans', sans-serif;font-size:6.6px;font-weight:bold">−1</text><path d="M428.2,261.4 Q432,265.29999999999995 428.2,269.2" fill="none" stroke="#111" stroke-width="0.95"/><path d="M398.5,287.6 Q394.70000000000005,291.5 398.5,295.40000000000003" fill="none" stroke="#111" stroke-width="0.95"/><text transform="translate(400.8 295.1) scale(1.1 1)" style="font-family:'Liberation Sans', sans-serif;font-size:10px;font-weight:bold">1575 cm</text><text transform="translate(443.0 290.6) scale(1.1 1)" style="font-family:'Liberation Sans', sans-serif;font-size:6.6px;font-weight:bold">−1</text><path d="M452.8,287.6 Q456.6,291.5 452.8,295.40000000000003" fill="none" stroke="#111" stroke-width="0.95"/><path d="M307.9,314.9 Q304.1,318.79999999999995 307.9,322.7" fill="none" stroke="#111" stroke-width="0.95"/><text transform="translate(310.2 322.4) scale(1.1 1)" style="font-family:'Liberation Sans', sans-serif;font-size:10px;font-weight:bold">1245 cm</text><text transform="translate(352.4 317.9) scale(1.1 1)" style="font-family:'Liberation Sans', sans-serif;font-size:6.6px;font-weight:bold">−1</text><path d="M362.2,314.9 Q366,318.79999999999995 362.2,322.7" fill="none" stroke="#111" stroke-width="0.95"/><path d="M430.9,323.6 Q427.1,327.5 430.9,331.40000000000003" fill="none" stroke="#111" stroke-width="0.95"/><text transform="translate(433.2 331.1) scale(1.1 1)" style="font-family:'Liberation Sans', sans-serif;font-size:10px;font-weight:bold">1627 cm</text><text transform="translate(475.4 326.6) scale(1.1 1)" style="font-family:'Liberation Sans', sans-serif;font-size:6.6px;font-weight:bold">−1</text><path d="M485.2,323.6 Q489,327.5 485.2,331.40000000000003" fill="none" stroke="#111" stroke-width="0.95"/><path d="M448.9,345.3 Q445.1,349.2 448.9,353.1" fill="none" stroke="#111" stroke-width="0.95"/><text transform="translate(451.2 352.8) scale(1.1 1)" style="font-family:'Liberation Sans', sans-serif;font-size:10px;font-weight:bold">1742 cm</text><text transform="translate(493.4 348.3) scale(1.1 1)" style="font-family:'Liberation Sans', sans-serif;font-size:6.6px;font-weight:bold">−1</text><path d="M503.2,345.3 Q507,349.2 503.2,353.1" fill="none" stroke="#111" stroke-width="0.95"/><polyline points="298.4,398.5 300,401.5 302.3,403.2 304.5,402 307.1,397.5 309.5,391.5 312,386.3 314,384.2 315.6,383.6 317.5,382.6 319.3,381.2 322,377.5 325.3,371.6 328,365 330.2,358.2 332,352 333.8,346.1 335.3,341 336.7,338.5 338.3,339.3 339.9,342.5 341.3,346.5 342.8,348.3 344.5,346.5 346,341.2 347.5,334 348.8,328 350.2,315 351.5,304 352.6,290 353.6,276.8 354.7,264 355.7,253.8 357.1,244.4 358.5,242 360,244 361.3,250 362.6,260 364.7,281 366.8,302 368.2,314.4 370.3,318.6 372,315.5 373.5,312.4 376,306.5 377.6,304 379.7,308.2 381.5,313 382.9,315.5 384.3,313 385.6,309.2 388.1,305 389.7,306.5 391.2,310.3 392.5,315 394,318.6 396,321.7 397.6,322.8 398.8,328.7 400,333 401,337.5 403.2,345.2 405.4,352.4 407.6,355.1 409.8,355.7 412.6,354.6 414.8,354.6 417.5,356.8 420.5,359.5 423,362.5 425.4,365 427.5,368 429.4,369.2 431.5,368.3 433.6,367.4 436,367.4 438.5,368 441.5,369.3 444.4,369.8 447,368.8 450,368.3 453,368.1 455.5,368.6 458.5,369.4 461.4,369.8 470,369.8 533.4,369.6" fill="none" stroke="#ff0000" stroke-width="2.3" stroke-linejoin="round" stroke-linecap="round"/><rect x="357.2" y="237.5" width="1.9" height="1.9" fill="#000"/><rect x="357.2" y="242.3" width="1.9" height="1.9" fill="#000"/><rect x="357.2" y="247.1" width="1.9" height="1.9" fill="#000"/><rect x="357.2" y="251.9" width="1.9" height="1.9" fill="#000"/><rect x="357.2" y="256.7" width="1.9" height="1.9" fill="#000"/><rect x="357.2" y="261.5" width="1.9" height="1.9" fill="#000"/><rect x="387.6" y="299.6" width="1.9" height="1.9" fill="#000"/><rect x="387.6" y="304.2" width="1.9" height="1.9" fill="#000"/><rect x="387.6" y="308.8" width="1.9" height="1.9" fill="#000"/><rect x="387.6" y="313.4" width="1.9" height="1.9" fill="#000"/><rect x="387.6" y="318.0" width="1.9" height="1.9" fill="#000"/><rect x="387.6" y="322.6" width="1.9" height="1.9" fill="#000"/><line x1="377.6" y1="303" x2="377.6" y2="279.5" stroke="#000" stroke-width="1.15"/><polygon points="377.6,271.3 380.2,279.5 377.6,278.0 375.0,279.5" fill="#000"/><line x1="336" y1="338.5" x2="333.3" y2="332.5" stroke="#000" stroke-width="1.15"/><polygon points="330,325 335.7,331.4 332.7,331.1 331.0,333.5" fill="#000"/><line x1="397.7" y1="322.7" x2="414.9" y2="325.8" stroke="#000" stroke-width="1.15"/><polygon points="423,327.2 414.5,328.3 416.4,326.0 415.4,323.2" fill="#000"/><line x1="414.8" y1="354.6" x2="431.6" y2="350.3" stroke="#000" stroke-width="1.15"/><polygon points="439.5,348.3 432.2,352.8 433.0,350.0 430.9,347.8" fill="#000"/><rect x="297.9" y="222.3" width="236.39999999999998" height="184.39999999999998" fill="none" stroke="#000" stroke-width="1.7"/><line x1="298.2" y1="406.7" x2="298.2" y2="409.7" stroke="#000" stroke-width="1.3"/><line x1="317.9" y1="406.7" x2="317.9" y2="408.5" stroke="#000" stroke-width="1.2"/><text transform="translate(298.2 420.0) scale(0.95 1)" text-anchor="middle" style="font-family:'Liberation Sans', sans-serif;font-size:10.3px;font-weight:bold">1000</text><line x1="337.5" y1="406.7" x2="337.5" y2="409.7" stroke="#000" stroke-width="1.3"/><line x1="357.2" y1="406.7" x2="357.2" y2="408.5" stroke="#000" stroke-width="1.2"/><text transform="translate(337.5 420.0) scale(0.95 1)" text-anchor="middle" style="font-family:'Liberation Sans', sans-serif;font-size:10.3px;font-weight:bold">1250</text><line x1="376.9" y1="406.7" x2="376.9" y2="409.7" stroke="#000" stroke-width="1.3"/><line x1="396.5" y1="406.7" x2="396.5" y2="408.5" stroke="#000" stroke-width="1.2"/><text transform="translate(376.9 420.0) scale(0.95 1)" text-anchor="middle" style="font-family:'Liberation Sans', sans-serif;font-size:10.3px;font-weight:bold">1500</text><line x1="416.2" y1="406.7" x2="416.2" y2="409.7" stroke="#000" stroke-width="1.3"/><line x1="435.9" y1="406.7" x2="435.9" y2="408.5" stroke="#000" stroke-width="1.2"/><text transform="translate(416.2 420.0) scale(0.95 1)" text-anchor="middle" style="font-family:'Liberation Sans', sans-serif;font-size:10.3px;font-weight:bold">1750</text><line x1="455.5" y1="406.7" x2="455.5" y2="409.7" stroke="#000" stroke-width="1.3"/><line x1="475.2" y1="406.7" x2="475.2" y2="408.5" stroke="#000" stroke-width="1.2"/><text transform="translate(455.5 420.0) scale(0.95 1)" text-anchor="middle" style="font-family:'Liberation Sans', sans-serif;font-size:10.3px;font-weight:bold">2000</text><line x1="494.8" y1="406.7" x2="494.8" y2="409.7" stroke="#000" stroke-width="1.3"/><line x1="514.5" y1="406.7" x2="514.5" y2="408.5" stroke="#000" stroke-width="1.2"/><text transform="translate(494.8 420.0) scale(0.95 1)" text-anchor="middle" style="font-family:'Liberation Sans', sans-serif;font-size:10.3px;font-weight:bold">2250</text><line x1="534.2" y1="406.7" x2="534.2" y2="409.7" stroke="#000" stroke-width="1.3"/><text transform="translate(534.2 420.0) scale(0.95 1)" text-anchor="middle" style="font-family:'Liberation Sans', sans-serif;font-size:10.3px;font-weight:bold">2500</text><text x="416" y="446.5" text-anchor="middle" style="font-family:'Liberation Sans', sans-serif;font-size:11.7px;font-weight:bold">Wavenumber (cm<tspan dy="-4.2" style="font-size:7.8px">−1</tspan><tspan dy="4.2">)</tspan></text><text transform="translate(282.2 310) rotate(-90)" text-anchor="middle" style="font-family:'Liberation Sans', sans-serif;font-size:11.7px;font-weight:bold">Intensity (a.u.)</text><text transform="translate(304.4 239.6) scale(1.2 1)" style="font-family:'Liberation Sans', sans-serif;font-size:16.2px;font-weight:bold">d</text></g>
</svg>
</body></html>
